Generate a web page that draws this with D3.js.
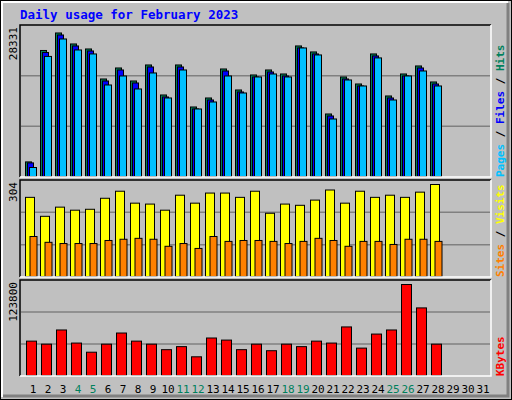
<!DOCTYPE html>
<html><head><meta charset="utf-8">
<script src="https://cdn.jsdelivr.net/npm/d3@7"></script>
<style>body{margin:0;background:#fff}</style>
</head><body>
<svg id="chart" width="512" height="400"></svg>
<script>
// values
const days = d3.range(1, 32);
const weekends = [4, 5, 11, 12, 18, 19, 25, 26];
const hits = [2985, 24315, 27664, 25561, 24602, 18859, 20965, 18476, 21540, 15796, 21540, 13499, 15221, 20774, 16753, 19625, 20582, 19816, 25180, 24033, 12158, 19242, 17901, 23650, 15605, 19816, 21350, 18285];
const files = [2794, 23933, 27281, 25180, 24221, 18476, 20582, 18093, 21157, 15413, 21157, 13116, 14838, 20390, 16370, 19242, 20199, 19433, 24797, 23650, 11775, 18859, 17518, 23267, 15221, 19433, 20965, 17901];
const pages = [1914, 23177, 26514, 24412, 23650, 17709, 19433, 16945, 20009, 15221, 20582, 13116, 14455, 19433, 16178, 19242, 19816, 19242, 24797, 23459, 11200, 18667, 17518, 22890, 14838, 19433, 20390, 17518];
const visits = [262, 200, 230, 220, 223, 259, 282, 243, 240, 220, 269, 243, 276, 276, 262, 282, 210, 240, 236, 253, 286, 243, 282, 262, 269, 262, 279, 304];
const sites = [134, 115, 111, 111, 111, 121, 125, 128, 125, 102, 111, 95, 134, 118, 121, 121, 118, 111, 118, 128, 121, 102, 118, 118, 108, 125, 125, 118];
const kbytes = [47600, 43500, 62600, 45000, 32700, 43500, 58500, 47600, 43500, 36100, 40200, 26500, 51800, 49000, 36100, 43500, 34700, 43500, 40200, 47600, 45000, 66700, 38200, 57100, 62600, 123800, 92300, 43500];

const svg = d3.select('#chart');
const font = 'DejaVu Sans Mono, monospace';
svg.append('rect').attr('width', 512).attr('height', 400).attr('fill', '#c0c0c0');
svg.append('rect').attr('x', 0.5).attr('y', 0.5).attr('width', 511).attr('height', 399).attr('fill', 'none').attr('stroke', '#000');
svg.append('path').attr('d', 'M2,397V2H508').attr('stroke', '#fff').attr('stroke-width', 2).attr('fill', 'none');
svg.append('path').attr('d', 'M508,3V396H3').attr('stroke', '#808080').attr('stroke-width', 3).attr('fill', 'none');

svg.append('text').attr('x', 20).attr('y', 19).attr('fill', '#0000ff')
  .attr('font-family', font).attr('font-weight', 'bold').attr('font-size', 12.5)
  .text('Daily usage for February 2023');

const x = d3.scaleBand().domain(days).range([20, 485]).paddingInner(0);

function panel(top, bottom, max, series, label, labels) {
  const y = d3.scaleLinear().domain([0, max * (bottom - top) / (bottom - top - 4)]).range([bottom, top]);
  const g = svg.append('g');
  g.append('rect').attr('x', 20).attr('y', top).attr('width', 471).attr('height', bottom - top).attr('fill', '#c0c0c0');
  [1, 2].forEach(i => {
    const gy = bottom - (bottom - top) * i / 3;
    g.append('line').attr('x1', 21).attr('x2', 490).attr('y1', gy).attr('y2', gy).attr('stroke', '#808080').attr('stroke-width', 1.5);
  });
  series.forEach(s => {
    g.selectAll(null).data(s.values).enter().append('rect')
      .attr('x', (d, i) => x(i + 1) + s.dx + 0.5)
      .attr('y', d => y(d) + 0.5)
      .attr('width', s.w)
      .attr('height', d => bottom - y(d) - 1)
      .attr('fill', s.color).attr('stroke', '#000').attr('stroke-width', 1);
  });
  g.append('path').attr('d', `M20,${bottom}V${top}H491`).attr('stroke', '#000').attr('stroke-width', 1.5).attr('fill', 'none');
  g.append('path').attr('d', `M491,${top}V${bottom}H20`).attr('stroke', '#fff').attr('stroke-width', 1.5).attr('fill', 'none');
  g.append('text').attr('transform', `translate(17,${top + 2}) rotate(-90)`).attr('text-anchor', 'end')
    .attr('font-family', font).attr('font-size', 11).attr('fill', '#000').text(label);
  const t = g.append('text').attr('transform', `translate(504,${bottom}) rotate(-90)`)
    .attr('font-family', font).attr('font-size', 11).attr('font-weight', 'bold');
  labels.forEach((l, i) => {
    if (i) t.append('tspan').attr('fill', '#000').text(' / ');
    t.append('tspan').attr('fill', l[1]).text(l[0]);
  });
}

panel(25, 177, 28331, [
  {values: hits, color: '#00805c', dx: 5, w: 6},
  {values: files, color: '#0000ff', dx: 7, w: 6},
  {values: pages, color: '#00c0ff', dx: 9, w: 7}
], '28331', [['Pages', '#00c0ff'], ['Files', '#0000ff'], ['Hits', '#00805c']]);

panel(180, 277, 304, [
  {values: visits, color: '#ffff00', dx: 5, w: 9},
  {values: sites, color: '#ff8000', dx: 9.5, w: 7}
], '304', [['Sites', '#ff8000'], ['Visits', '#ffff00']]);

panel(280, 376, 123800, [
  {values: kbytes, color: '#ff0000', dx: 6, w: 10}
], '123800', [['KBytes', '#ff0000']]);

svg.selectAll('.day').data(days).enter().append('text')
  .attr('x', d => x(d) + 13).attr('y', 393).attr('text-anchor', 'middle')
  .attr('font-family', font).attr('font-size', 11)
  .attr('fill', d => weekends.includes(d) ? '#00805c' : '#000')
  .text(d => d);
</script>
</body></html>
